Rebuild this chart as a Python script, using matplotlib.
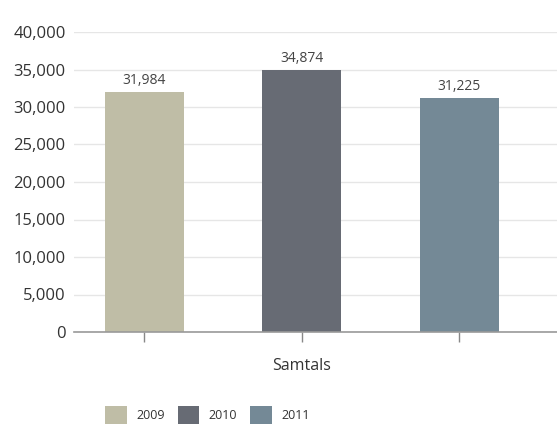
import matplotlib.pyplot as plt
import matplotlib.ticker as mticker
from matplotlib.patches import Patch

plt.rcParams['font.family'] = ['Open Sans', 'DejaVu Sans']

years = ['2009', '2010', '2011']
values = [31984, 34874, 31225]
colors = ['#bfbda6', '#676b74', '#748996']
category = 'Samtals'

fig = plt.figure(figsize=(5.57, 4.28), dpi=100)
ax = fig.add_axes([74 / 557, 1 - 332 / 428, 1 - 74 / 557, 300 / 428])

xs = list(range(len(years)))
bars = ax.bar(xs, values, width=0.5, color=colors, zorder=3)
for x, v in zip(xs, values):
    ax.text(x, v + 550, '{:,}'.format(v), ha='center', va='bottom',
            fontsize=10, color='#444444')

ax.set_ylim(0, 40000)
ax.set_xlim(-0.445, 2.62)
ax.yaxis.set_major_locator(mticker.MultipleLocator(5000))
ax.yaxis.set_major_formatter(mticker.FuncFormatter(lambda v, p: '{:,.0f}'.format(v)))
ax.grid(axis='y', color='#e6e6e6', lw=1, zorder=0)
for s in ['top', 'right', 'left']:
    ax.spines[s].set_visible(False)
ax.spines['bottom'].set_color('#999999')
ax.spines['bottom'].set_linewidth(1.2)
ax.spines['bottom'].set_zorder(4)
ax.set_xticks(xs)
ax.set_xticklabels([])
ax.tick_params(axis='x', length=7, color='#888888', width=1)
ax.tick_params(axis='y', length=0, labelsize=12, labelcolor='#333333', pad=6)

fig.text(302 / 557, 1 - 366 / 428, category, ha='center', va='center',
         fontsize=11.5, color='#333333')

handles = [Patch(facecolor=c, edgecolor='none') for c in colors]
fig.legend(handles, years, loc='center left', bbox_to_anchor=(99 / 557, 1 - 415 / 428),
           ncol=3, frameon=False, fontsize=9, handlelength=1.75, handleheight=1.75,
           handletextpad=0.75, columnspacing=1.0, borderpad=0, labelcolor='#333333')

fig.savefig('out.png', dpi=100)
